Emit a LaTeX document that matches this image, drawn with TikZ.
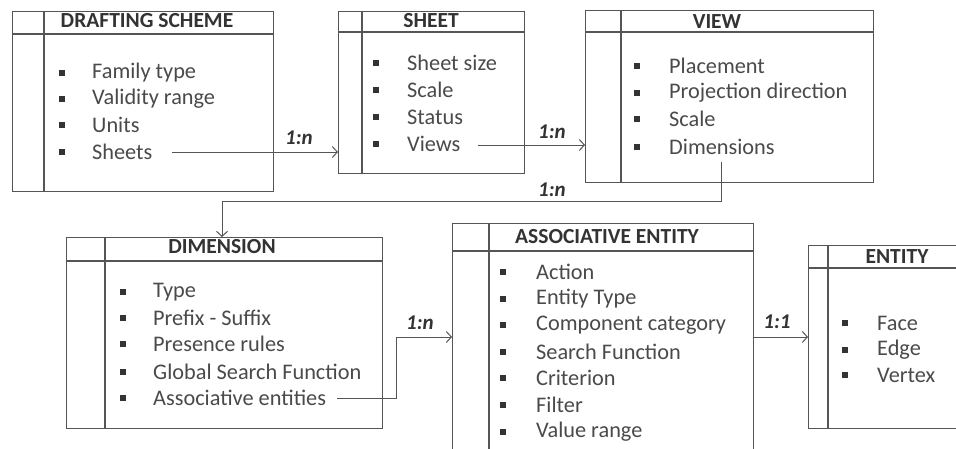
\documentclass[tikz,border=0pt]{standalone}
\usepackage{fontspec}
\setmainfont{Carlito}
\usetikzlibrary{arrows.meta,calc}
\definecolor{ln}{HTML}{555555}
\definecolor{tx}{HTML}{4A4A4A}
\definecolor{tt}{HTML}{333333}
\begin{document}
\begin{tikzpicture}[x=1pt,y=-1pt,
  box/.style={draw=ln, line width=1.2pt, rectangle, inner sep=0pt, anchor=north west},
  sep/.style={draw=ln, line width=1.2pt},
  item/.style={anchor=west, inner sep=0pt, text=tx, font=\fontsize{22.3}{26}\selectfont},
  ttl/.style={anchor=center, inner sep=0pt, text=tt, font=\bfseries\fontsize{21.5}{24}\selectfont},
  card/.style={anchor=center, inner sep=0pt, text=tt, font=\bfseries\itshape\fontsize{21}{24}\selectfont},
  conn/.style={draw=ln, line width=1pt, -{Straight Barb[length=5pt,width=11pt]}},
  bul/.style={fill=tt}
]
\useasboundingbox (0,0) rectangle (956,448);
\clip (0,0) rectangle (956,448);
\fill[white] (0,0) rectangle (956,448);

% ---------- DRAFTING SCHEME ----------
\node[box, minimum width=261pt, minimum height=180pt] (ds) at (12,11) {};
\draw[sep] ($(ds.north west)+(32,0)$) -- ($(ds.south west)+(32,0)$);
\draw[sep] ($(ds.north west)+(0,23)$) -- ($(ds.north east)+(0,23)$);
\node[ttl] (dst) at (147,21) {DRAFTING SCHEME};
\foreach \t/\y [count=\i] in {Family type/73, Validity range/99, Units/125, Sheets/152}{
  \fill[bul] (59,\y-3) rectangle ++(6,6);
  \node[item] (ds\i) at (92,\y) {\t};
}

% ---------- SHEET ----------
\node[box, minimum width=186pt, minimum height=162pt] (sh) at (338,11) {};
\draw[sep] ($(sh.north west)+(24,0)$) -- ($(sh.south west)+(24,0)$);
\draw[sep] ($(sh.north west)+(0,21)$) -- ($(sh.north east)+(0,21)$);
\node[ttl] (sht) at (431,21) {SHEET};
\foreach \t/\y [count=\i] in {Sheet size/63, Scale/90, Status/117, Views/144}{
  \fill[bul] (373,\y-3) rectangle ++(6,6);
  \node[item] (sh\i) at (407,\y) {\t};
}

% ---------- VIEW ----------
\node[box, minimum width=288pt, minimum height=172pt] (vw) at (585,10) {};
\draw[sep] ($(vw.north west)+(36,0)$) -- ($(vw.south west)+(36,0)$);
\draw[sep] ($(vw.north west)+(0,22)$) -- ($(vw.north east)+(0,22)$);
\node[ttl] (vwt) at (717,22) {VIEW};
\foreach \t/\y [count=\i] in {Placement/66, Projection direction/93, Scale/119, Dimensions/147}{
  \fill[bul] (634,\y-3) rectangle ++(6,6);
  \node[item] (vw\i) at (669,\y) {\t};
}

% ---------- DIMENSION ----------
\node[box, minimum width=316pt, minimum height=191pt] (dm) at (66,237) {};
\draw[sep] ($(dm.north west)+(39,0)$) -- ($(dm.south west)+(39,0)$);
\draw[sep] ($(dm.north west)+(0,24)$) -- ($(dm.north east)+(0,24)$);
\node[ttl] (dmt) at (222,247) {DIMENSION};
\foreach \t/\y [count=\i] in {Type/292, Prefix - Suffix/318, Presence rules/344, Global Search Function/372, Associative entities/398}{
  \fill[bul] (120,\y-3) rectangle ++(6,6);
  \node[item] (dm\i) at (153,\y) {\t};
}

% ---------- ASSOCIATIVE ENTITY ----------
\node[box, minimum width=301pt, minimum height=240pt] (ae) at (452,223) {};
\draw[sep] ($(ae.north west)+(37,0)$) -- ($(ae.south west)+(37,0)$);
\draw[sep] ($(ae.north west)+(0,28)$) -- ($(ae.north east)+(0,28)$);
\node[ttl] (aet) at (607,237) {ASSOCIATIVE ENTITY};
\foreach \t/\y [count=\i] in {Action/272, Entity Type/299, Component category/325, Search Function/352, Criterion/378, Filter/405, Value range/432}{
  \fill[bul] (500,\y-3) rectangle ++(6,6);
  \node[item] (ae\i) at (536,\y) {\t};
}

% ---------- ENTITY ----------
\node[box, minimum width=160pt, minimum height=183pt] (en) at (808,245) {};
\draw[sep] ($(en.north west)+(20,0)$) -- ($(en.south west)+(20,0)$);
\draw[sep] ($(en.north west)+(0,23)$) -- ($(en.north east)+(0,23)$);
\node[ttl] (ent) at (897,257) {ENTITY};
\foreach \t/\y [count=\i] in {Face/323, Edge/350, Vertex/375}{
  \fill[bul] (842,\y-3) rectangle ++(6,6);
  \node[item] (en\i) at (877,\y) {\t};
}

% ---------- connectors ----------
\coordinate (c1) at (172,152);
\draw[conn] (c1) -- (c1 -| sh.west);
\node[card] (l1) at (299,138) {1:n};

\coordinate (c2) at (478,145);
\draw[conn] (c2) -- (c2 -| vw.west);
\node[card] (l2) at (552,132) {1:n};

\coordinate (c3) at (721,162);
\coordinate (c3b) at (721,201);
\draw[conn] (c3) -- (c3b) -| ($(dm.north west)+(156,0)$);
\node[card] (l3) at (552,190) {1:n};

\coordinate (c4) at (337,398);
\coordinate (c4b) at (396,337);
\draw[conn] (c4) -| (c4b) -- (c4b -| ae.west);
\node[card] (l4) at (420,323) {1:n};

\coordinate (c5) at (753,337);
\draw[conn] (c5) -- (c5 -| en.west);
\node[card] (l5) at (777,322) {1:1};
\end{tikzpicture}
\end{document}
